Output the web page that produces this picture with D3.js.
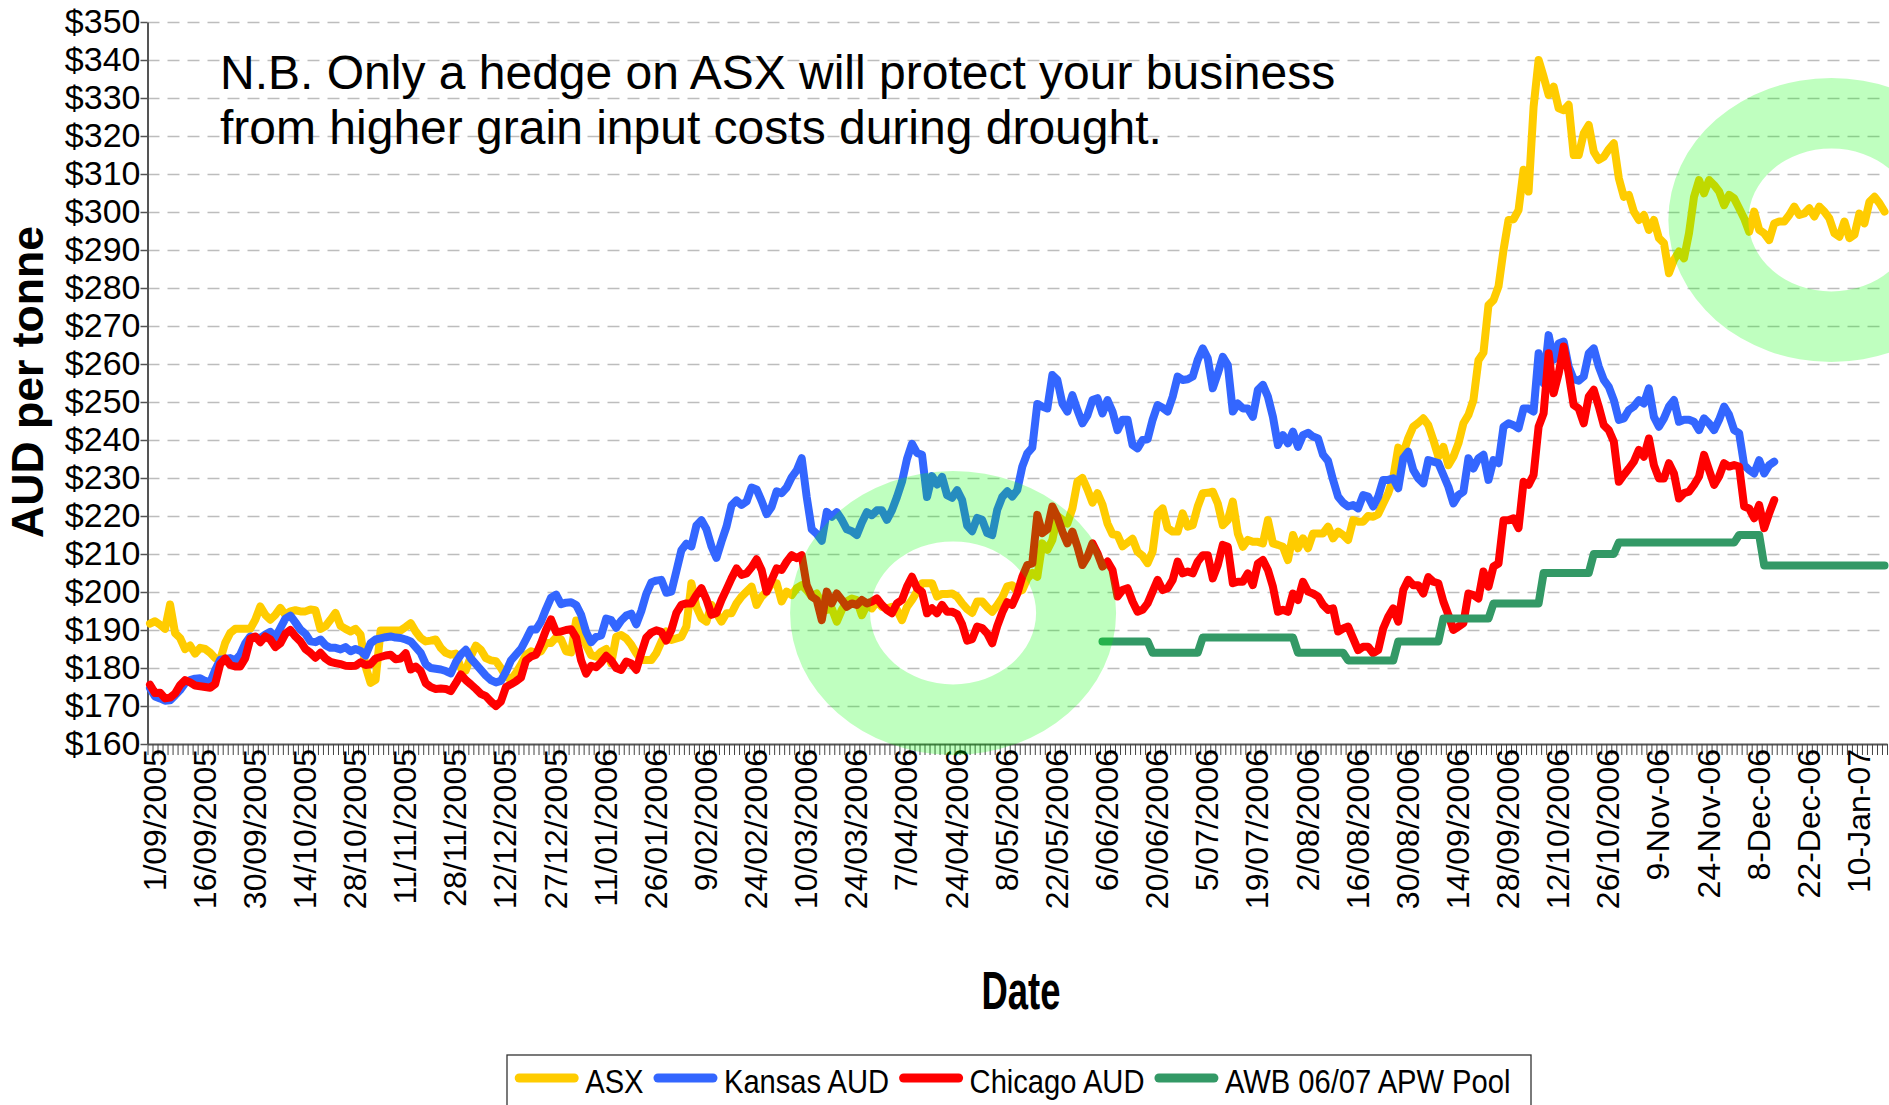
<!DOCTYPE html>
<html><head><meta charset="utf-8">
<script src="https://cdn.jsdelivr.net/npm/d3@7"></script>
<style>
html,body{margin:0;padding:0;background:#fff;overflow:hidden}
svg{display:block}
text{font-family:"Liberation Sans",Arial,sans-serif;fill:#000}
</style></head><body>
<svg id="chart" width="1889" height="1105"></svg>
<script>
// ---------- data ----------
const tickLabels = ["1/09/2005","16/09/2005","30/09/2005","14/10/2005","28/10/2005","11/11/2005","28/11/2005","12/12/2005","27/12/2005","11/01/2006","26/01/2006","9/02/2006","24/02/2006","10/03/2006","24/03/2006","7/04/2006","24/04/2006","8/05/2006","22/05/2006","6/06/2006","20/06/2006","5/07/2006","19/07/2006","2/08/2006","16/08/2006","30/08/2006","14/09/2006","28/09/2006","12/10/2006","26/10/2006","9-Nov-06","24-Nov-06","8-Dec-06","22-Dec-06","10-Jan-07"];
const labelEvery = 10;
const nCategories = 347;
const categories = d3.range(nCategories);
const yTicks = d3.range(160, 351, 10);

const asx = [
191.7,192.3,191.4,190.3,196.7,189.2,187.9,185.0,185.9,183.8,
185.3,185.0,184.0,182.6,182.2,186.6,189.2,190.3,190.3,190.3,
190.3,192.7,196.2,194.0,192.7,194.0,195.8,194.0,194.9,195.2,
194.9,194.9,195.4,195.2,190.3,191.0,192.7,194.5,191.1,190.3,
189.6,190.3,188.8,180.4,176.1,176.9,189.9,189.9,189.9,189.9,
189.9,190.8,191.8,189.6,187.9,187.0,187.2,187.5,185.3,184.0,
183.5,183.8,180.0,179.4,183.1,185.9,184.8,182.6,182.0,181.8,
180.0,177.8,176.9,178.7,180.9,183.5,184.4,183.9,184.4,186.6,
186.6,188.0,187.5,184.4,184.1,192.5,189.6,186.0,183.4,183.0,
184.3,185.0,181.2,188.2,188.7,187.8,186.1,183.9,182.1,182.1,
182.1,183.9,186.9,189.6,187.4,187.8,188.2,190.9,202.3,196.1,
193.1,192.2,196.6,194.4,192.2,194.4,194.4,197.0,198.8,200.1,
201.4,196.6,198.8,200.1,202.3,202.3,197.5,200.1,199.2,201.0,
201.8,200.5,198.8,199.6,197.0,195.3,195.7,192.2,195.3,197.5,
198.3,197.9,193.9,196.6,195.7,197.5,196.1,195.7,196.1,195.3,
192.6,196.1,197.9,200.1,202.3,202.3,202.3,198.8,199.5,199.5,
199.6,198.8,197.0,195.5,194.5,197.5,197.5,196.0,194.8,196.5,
198.5,201.5,201.8,200.0,200.5,203.5,205.0,204.0,212.8,211.1,
213.7,220.0,219.0,218.0,222.0,229.0,230.0,227.0,223.5,226.0,
223.0,218.0,215.2,215.0,212.0,213.0,214.0,210.6,209.5,207.6,
210.6,220.7,222.0,216.8,215.9,215.9,220.7,217.2,217.6,222.5,
226.0,226.1,226.4,223.3,217.6,218.9,223.8,215.4,211.9,213.7,
213.2,213.2,212.8,218.9,212.8,212.4,211.9,208.4,215.0,211.5,
214.1,211.5,215.4,215.4,215.4,217.2,214.1,215.9,215.0,213.7,
218.9,218.5,218.5,220.0,219.8,220.5,223.3,226.0,230.0,238.0,
236.5,240.5,243.5,244.5,245.7,243.9,240.0,235.6,238.2,233.4,
235.6,239.1,244.4,246.6,250.5,261.0,263.0,275.5,276.8,280.4,
290.0,297.9,298.1,300.5,311.1,305.4,327.7,340.0,335.6,330.8,
333.0,327.3,326.8,328.2,315.0,315.0,320.7,322.9,315.9,313.7,
314.5,316.5,318.1,308.9,304.0,304.5,300.1,297.9,299.2,295.3,
297.9,293.1,291.8,283.9,287.4,289.6,287.8,294.4,304.0,308.4,
304.9,308.4,307.1,305.4,301.8,304.5,303.6,301.0,298.3,294.8,
300.1,295.3,294.4,292.6,297.0,297.5,297.5,299.2,301.4,299.2,
299.6,301.0,298.8,301.4,300.1,298.3,294.4,293.5,297.5,293.1,
294.0,299.6,297.0,302.7,304.0,302.3,300.1];

const kansas = [
174.7,172.5,172.0,171.4,171.5,172.8,174.2,176.0,176.8,177.2,
177.3,176.6,176.2,179.5,182.2,182.4,182.6,182.0,183.5,186.5,
188.3,188.0,187.9,188.8,189.5,188.0,190.5,193.0,193.8,192.0,
190.1,189.0,187.0,186.8,187.5,186.0,185.3,185.3,184.9,185.5,
184.4,185.0,184.5,183.3,186.5,187.5,187.8,188.1,188.3,188.0,
187.9,187.5,187.0,185.5,184.0,181.0,180.0,179.8,179.6,179.2,
178.6,181.5,183.5,184.8,182.5,181.0,179.5,178.0,176.8,176.2,
176.6,179.0,182.0,183.5,185.0,187.5,190.1,190.1,192.2,195.5,
198.5,199.3,196.8,197.2,197.3,196.6,194.0,189.5,186.8,188.2,
188.6,193.0,192.6,190.6,192.5,193.8,194.3,191.5,195.0,199.5,
202.5,203.0,203.2,199.8,200.1,205.5,211.0,212.7,212.0,217.5,
218.9,216.5,212.0,209.0,213.3,217.2,222.8,224.1,222.9,223.8,
227.5,227.0,224.0,220.5,222.4,226.5,226.0,227.5,230.2,232.0,
235.2,225.0,216.5,215.3,213.5,221.1,219.8,221.0,219.0,216.5,
216.0,215.0,218.3,221.0,220.2,221.5,221.5,219.0,221.5,225.0,
229.0,235.0,239.0,236.6,236.1,225.0,230.5,228.3,230.3,225.5,
224.8,226.8,224.2,217.5,216.0,219.5,219.0,215.5,215.0,221.6,
225.0,226.5,225.1,226.8,233.0,236.5,238.0,249.5,248.8,248.3,
257.1,255.8,249.6,247.5,251.8,247.9,244.4,246.5,250.5,251.0,
247.0,250.5,247.5,242.6,245.3,245.3,238.7,237.8,240.0,240.2,
245.3,249.2,248.5,247.5,251.4,256.7,255.8,256.0,256.7,261.1,
264.1,261.5,253.6,257.5,261.9,259.7,247.5,249.6,248.3,248.3,
246.1,253.2,254.5,251.4,246.1,238.7,241.3,239.1,242.2,238.2,
241.3,241.9,240.9,240.4,236.1,234.5,229.5,225.1,223.5,222.5,
222.9,222.0,225.5,225.1,222.5,225.1,229.5,229.5,229.9,227.3,
235.2,236.9,232.1,229.9,228.6,234.7,234.3,233.9,230.8,227.7,
223.3,225.5,226.4,235.2,232.5,235.2,236.1,229.5,234.7,233.9,
243.5,244.4,243.9,243.1,248.3,248.3,247.5,262.8,255.0,267.6,
261.1,265.4,265.9,259.3,256.0,255.6,256.7,262.8,264.1,259.3,
255.8,254.0,250.5,245.3,245.7,247.9,248.8,250.5,249.6,253.6,
246.1,243.5,245.7,248.8,250.5,244.8,245.3,245.3,244.8,242.6,
245.7,244.4,242.6,245.3,248.8,246.6,242.6,241.8,233.4,232.1,
231.2,234.7,231.2,233.4,234.3];

const chicago = [
175.6,173.4,173.5,172.0,172.2,173.3,175.5,176.8,176.2,175.4,
175.2,175.0,174.8,175.8,181.0,182.5,180.8,180.4,180.4,182.6,
187.7,188.3,186.8,188.3,187.5,185.5,186.5,189.0,190.0,188.3,
187.0,185.0,184.0,182.7,184.0,182.5,181.6,181.3,181.0,180.6,
180.5,180.6,181.5,180.8,181.0,182.5,182.9,183.3,183.5,182.3,
182.5,183.9,179.6,180.4,179.2,176.0,175.0,174.5,174.6,174.5,
173.9,176.0,178.3,176.8,175.7,174.5,173.2,172.6,171.2,170.0,
171.2,175.0,175.7,176.5,177.5,182.0,183.0,183.5,186.5,190.0,
192.8,189.5,189.6,190.0,190.2,188.0,182.0,178.5,180.6,180.2,
181.5,183.2,182.0,180.0,179.5,181.7,181.2,179.5,183.9,188.0,
189.3,189.9,189.5,187.2,190.0,194.5,196.6,197.0,197.0,199.2,
201.0,198.0,194.0,194.5,197.9,200.7,203.6,206.2,204.5,204.9,
206.5,208.6,205.8,200.1,203.2,206.2,205.8,208.0,209.7,208.9,
209.7,201.8,198.8,197.9,192.6,200.1,197.0,199.6,197.9,196.1,
197.0,196.6,197.9,197.0,197.5,198.3,196.6,195.3,194.4,197.0,
197.9,201.4,204.0,201.0,200.0,194.4,195.7,194.4,196.6,194.8,
194.8,194.2,191.5,187.2,187.6,190.9,190.5,189.1,186.5,191.0,
194.6,197.3,196.6,199.6,204.0,207.1,207.5,220.3,215.5,216.5,
222.5,219.8,215.9,212.8,215.9,211.9,207.1,209.3,212.8,210.2,
206.7,208.0,205.8,198.8,200.5,201.0,197.5,194.8,195.3,197.0,
200.1,203.2,200.5,201.0,203.2,208.0,204.9,205.4,204.9,208.0,
209.7,209.7,203.6,207.1,212.4,211.9,202.3,202.7,202.7,204.9,
201.8,207.5,208.4,205.8,201.4,194.8,195.3,194.8,199.6,197.9,
202.7,200.1,199.6,198.8,196.6,195.3,195.7,189.6,190.4,190.9,
187.8,184.7,185.6,185.6,183.9,184.7,190.4,193.5,195.7,192.2,
200.5,203.2,201.8,201.8,199.6,203.9,202.7,202.3,197.5,194.0,
190.0,190.9,191.8,199.6,199.2,198.3,205.4,201.4,206.7,207.5,
218.9,218.9,219.4,216.8,229.0,228.2,230.8,243.5,247.0,262.8,
252.3,257.5,264.6,257.5,249.2,248.3,244.4,251.4,253.2,248.8,
243.9,242.6,239.6,229.0,230.8,232.5,234.3,237.4,235.6,240.4,
233.4,229.9,229.9,233.9,231.2,224.6,226.0,226.4,228.2,230.4,
236.1,232.1,228.2,230.4,233.9,233.0,233.4,233.0,222.5,222.0,
219.4,222.9,216.8,220.7,224.2];

const awbStart = 190;
const awb = [
187,187,187,187,187,187,187,187,187,187,
184,184,184,184,184,184,184,184,184,184,
188,188,188,188,188,188,188,188,188,188,188,188,188,188,188,188,188,188,188,
184,184,184,184,184,184,184,184,184,184,
182,182,182,182,182,182,182,182,182,182,
187,187,187,187,187,187,187,187,187,
193,193,193,193,193,193,193,193,193,193,
197,197,197,197,197,197,197,197,197,197,
205,205,205,205,205,205,205,205,205,205,
210,210,210,210,210,
213,213,213,213,213,213,213,213,213,213,213,213,213,213,213,213,213,213,213,213,213,213,213,213,
215,215,215,215,215,
207,207,207,207,207,207,207,207,207,207,207,207,207,207,207,207,207,207,207,207,207,207,207,207,207];

const seriesNames = ["ASX", "Kansas AUD", "Chicago AUD", "AWB 06/07 APW Pool"];
const seriesColors = ["#FFCC00", "#3366FF", "#FF0000", "#339966"];
const noteLines = ["N.B. Only a hedge on ASX will protect your business", "from higher grain input costs during drought."];
// highlight rings: centre (category, $)
const ringCx = [160.2, 335.4];
const ringCy = [194.5, 297.9];

// ---------- layout ----------
const svg = d3.select("#chart");
const X0 = 147.5, CW = 5.013, YT = 22, YB = 744;
const X1 = X0 + nCategories * CW;
const xLin = d3.scaleLinear().domain([0, nCategories]).range([X0, X1]);
const xc = k => xLin(k + 0.5);
const y = d3.scaleLinear().domain([160, 350]).range([YB, YT]);

// gridlines
const grid = svg.append("g").attr("transform", `translate(${X0},0)`)
  .call(d3.axisLeft(y).tickValues(yTicks.filter(v => v > 160)).tickSize(-(X1 - X0)).tickFormat(""));
grid.select(".domain").remove();
grid.selectAll("line").attr("stroke", "#bdbdbd").attr("stroke-width", 1.5).attr("stroke-dasharray", "12,8");

// y axis
const yAx = svg.append("g").attr("transform", `translate(${X0},0)`)
  .call(d3.axisLeft(y).tickValues(yTicks).tickFormat(d => "$" + d).tickSize(7).tickSizeOuter(0).tickPadding(0));
yAx.select(".domain").attr("stroke", "#555").attr("stroke-width", 2);
yAx.selectAll("line").attr("stroke", "#555").attr("stroke-width", 1.5);
yAx.selectAll("text").style("font-size", "34px").attr("fill", "#000");

// x axis (tick marks at category boundaries)
const xAx = svg.append("g").attr("transform", `translate(0,${YB})`)
  .call(d3.axisBottom(xLin).tickValues(d3.range(nCategories + 1)).tickSize(11).tickSizeOuter(0).tickFormat(""));
xAx.select(".domain").attr("stroke", "#555").attr("stroke-width", 2);
xAx.selectAll("line").attr("stroke", "#444").attr("stroke-width", 1);

// x labels
svg.append("g").selectAll("text").data(tickLabels).join("text")
  .attr("transform", (d, i) => `translate(${xc(i * labelEvery) + 4},${YB + 5}) rotate(-90)`)
  .attr("text-anchor", "end").attr("dy", "0.36em")
  .style("font-size", "32px").text(d => d);

// series
const line = d3.line().defined(d => d.v != null).x(d => xc(d.k)).y(d => y(d.v));
const seriesData = [
  asx.map((v, i) => ({k: categories[i], v})),
  kansas.map((v, i) => ({k: categories[i], v})),
  chicago.map((v, i) => ({k: categories[i], v})),
  awb.map((v, i) => ({k: categories[i + awbStart], v}))
];
svg.append("g").selectAll("path").data(seriesData).join("path")
  .attr("d", line).attr("fill", "none")
  .attr("stroke", (d, i) => seriesColors[i]).attr("stroke-width", 8)
  .attr("stroke-linejoin", "round").attr("stroke-linecap", "round");

// rings
function ellipse(cx, cy, rx, ry) {
  return `M${cx - rx},${cy}A${rx},${ry} 0 1 0 ${cx + rx},${cy}A${rx},${ry} 0 1 0 ${cx - rx},${cy}Z`;
}
svg.append("g").selectAll("path").data(ringCx).join("path")
  .attr("d", (d, i) => {
    const cx = xc(d), cy = y(ringCy[i]);
    return ellipse(cx, cy, 163, 142) + ellipse(cx, cy, 83, 71.5);
  })
  .attr("fill", "#00ff00").attr("fill-opacity", 0.25).attr("fill-rule", "evenodd");

// note
svg.append("g").selectAll("text").data(noteLines).join("text")
  .attr("x", 220).attr("y", (d, i) => 89 + i * 55)
  .style("font-size", "48px").text(d => d);

// axis titles
svg.append("text").attr("transform", "translate(43,382) rotate(-90)")
  .attr("text-anchor", "middle").style("font-size", "44px").style("font-weight", "bold")
  .attr("textLength", 312).attr("lengthAdjust", "spacingAndGlyphs").text("AUD per tonne");
svg.append("text").attr("x", 1021).attr("y", 1009)
  .attr("text-anchor", "middle").style("font-size", "54px").style("font-weight", "bold")
  .attr("textLength", 79).attr("lengthAdjust", "spacingAndGlyphs").text("Date");

// legend
svg.append("rect").attr("x", 507).attr("y", 1055).attr("width", 1024).attr("height", 70)
  .attr("fill", "#fff").attr("stroke", "#333").attr("stroke-width", 1.3);
const lg = svg.append("g");
let lx = 514.7;
seriesNames.forEach((name, i) => {
  lg.append("line").attr("x1", lx + 4.5).attr("x2", lx + 59.5).attr("y1", 1078).attr("y2", 1078)
    .attr("stroke", seriesColors[i]).attr("stroke-width", 9).attr("stroke-linecap", "round");
  const t = lg.append("text").attr("transform", `translate(${lx + 70.5},1093) scale(0.87,1)`)
    .style("font-size", "33.5px").text(name);
  const w = t.node().getComputedTextLength() * 0.87;
  lx += 70.5 + w + 10;
});
</script>
</body></html>
